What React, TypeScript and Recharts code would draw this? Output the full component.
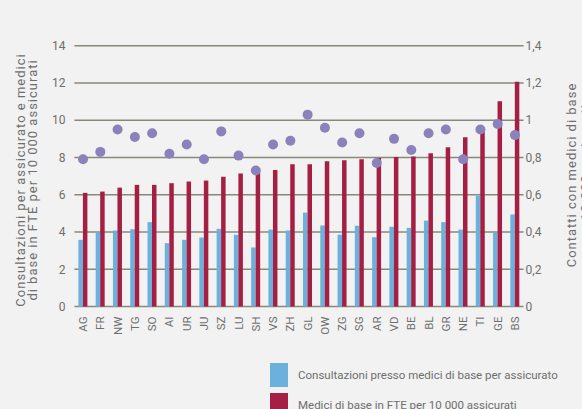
import { ComposedChart, Bar, Line, XAxis, YAxis, CartesianGrid } from 'recharts'

const cantons = ['AG', 'FR', 'NW', 'TG', 'SO', 'AI', 'UR', 'JU', 'SZ', 'LU', 'SH', 'VS', 'ZH', 'GL', 'OW', 'ZG', 'SG', 'AR', 'VD', 'BE', 'BL', 'GR', 'NE', 'TI', 'GE', 'BS']
// consultazioni presso medici di base per assicurato (left axis)
const consultations = [3.58, 3.99, 4.08, 4.15, 4.53, 3.4, 3.58, 3.7, 4.17, 3.85, 3.17, 4.13, 4.08, 5.04, 4.35, 3.86, 4.34, 3.72, 4.28, 4.22, 4.61, 4.53, 4.13, 5.95, 4.01, 4.94]
// medici di base in FTE per 10 000 assicurati (left axis)
const doctorsFte = [6.1, 6.17, 6.38, 6.53, 6.53, 6.62, 6.71, 6.76, 6.96, 7.14, 7.2, 7.33, 7.64, 7.64, 7.8, 7.85, 7.91, 7.97, 8.03, 8.05, 8.23, 8.55, 9.09, 9.6, 11.02, 12.07]
// contatti con medici di base (right axis)
const contacts = [0.79, 0.83, 0.95, 0.91, 0.93, 0.82, 0.87, 0.79, 0.94, 0.81, 0.73, 0.87, 0.89, 1.03, 0.96, 0.88, 0.93, 0.77, 0.9, 0.84, 0.93, 0.95, 0.79, 0.95, 0.98, 0.92]

const leftTicks = [0, 2, 4, 6, 8, 10, 12, 14]
const rightTicks = [0, 0.2, 0.4, 0.6, 0.8, 1, 1.2, 1.4]

const data = cantons.map((canton, i) => ({
  canton,
  consultations: consultations[i],
  doctorsFte: doctorsFte[i],
  contacts: contacts[i],
}))

const FONT = 'Roboto, sans-serif'
const TEXT = '#6e6e6e'
const BLUE = '#6cb0dc'
const RED = '#a51f45'
const PURPLE = '#8c82bb'
const GRID = '#8a8878'

function CantonTick({ x, y, payload }: any) {
  return (
    <text
      transform={`translate(${x + 4},${y}) rotate(-90)`}
      textAnchor="end"
      fontSize={11.5}
      fontFamily={FONT}
      fill={TEXT}
    >
      {payload.value}
    </text>
  )
}

function LeftAxisTitle() {
  return (
    <g fontFamily={FONT} fontSize={13} letterSpacing={1} fill={TEXT} textAnchor="middle">
      <text transform="translate(25,180) rotate(-90)">Consultazioni per assicurato e medici</text>
      <text transform="translate(37,180) rotate(-90)">di base in FTE per 10 000 assicurati</text>
    </g>
  )
}

function RightAxisTitle() {
  return (
    <g fontFamily={FONT} fontSize={13} letterSpacing={1} fill={TEXT} textAnchor="middle">
      <text transform="translate(576,175) rotate(-90)">Contatti con medici di base</text>
      <text transform="translate(590,175) rotate(-90)">per 10 000 assicurati</text>
    </g>
  )
}

export default function App() {
  return (
    <div style={{ position: 'absolute', left: 0, top: 0, width: 582, height: 409, background: '#f2f2f2', overflow: 'hidden' }}>
      <ComposedChart
        width={582}
        height={409}
        data={data}
        margin={{ top: 45.7, right: 8.4, bottom: 62.5, left: 0 }}
        barGap={0}
      >
        <CartesianGrid vertical={false} stroke={GRID} strokeWidth={1.5} yAxisId="left" />
        <XAxis
          dataKey="canton"
          interval={0}
          tickLine={false}
          axisLine={false}
          tickSize={0}
          tickMargin={10}
          height={40}
          tick={<CantonTick />}
        />
        <YAxis
          yAxisId="left"
          width={74.4}
          domain={[0, 14]}
          ticks={leftTicks}
          tickLine={false}
          axisLine={false}
          tickSize={0}
          tickMargin={9}
          tick={{ fontSize: 12, fontFamily: FONT, fill: TEXT }}
          label={{ content: () => <LeftAxisTitle /> }}
        />
        <YAxis
          yAxisId="right"
          orientation="right"
          width={50}
          domain={[0, 1.4]}
          ticks={rightTicks}
          tickLine={false}
          axisLine={false}
          tickSize={0}
          tickMargin={2}
          tick={{ fontSize: 12, fontFamily: FONT, fill: TEXT }}
          tickFormatter={(v: number) => String(v).replace('.', ',')}
          label={{ content: () => <RightAxisTitle /> }}
        />
        <Bar yAxisId="left" dataKey="consultations" fill={BLUE} barSize={4.5} isAnimationActive={false} />
        <Bar yAxisId="left" dataKey="doctorsFte" fill={RED} barSize={4.5} isAnimationActive={false} />
        <Line
          yAxisId="right"
          dataKey="contacts"
          stroke="none"
          dot={{ r: 5, fill: PURPLE, stroke: 'none', fillOpacity: 1 }}
          activeDot={false}
          isAnimationActive={false}
        />
      </ComposedChart>
      <div style={{ position: 'absolute', left: 270, top: 363, fontFamily: FONT, fontSize: 11.5, color: TEXT }}>
        <div style={{ display: 'flex', alignItems: 'center', height: 24 }}>
          <span style={{ width: 18, height: 24, background: BLUE, display: 'inline-block', marginRight: 10 }} />
          Consultazioni presso medici di base per assicurato
        </div>
        <div style={{ display: 'flex', alignItems: 'center', height: 24, marginTop: 6 }}>
          <span style={{ width: 18, height: 24, background: RED, display: 'inline-block', marginRight: 10 }} />
          Medici di base in FTE per 10 000 assicurati
        </div>
      </div>
    </div>
  )
}
